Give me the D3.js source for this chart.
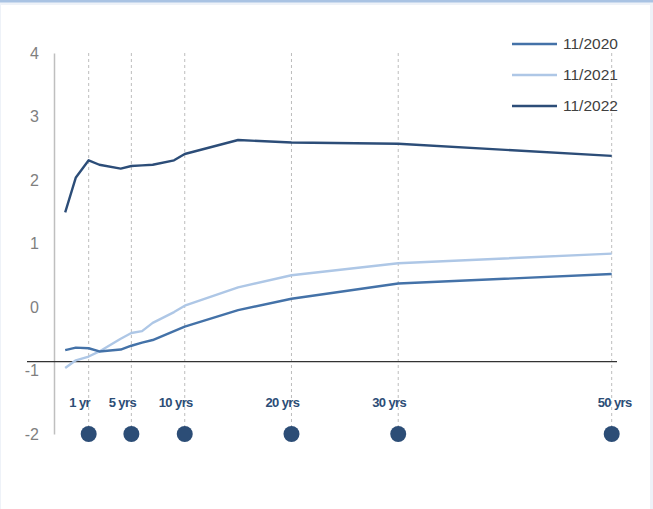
<!DOCTYPE html>
<html>
<head>
<meta charset="utf-8">
<script src="https://cdn.jsdelivr.net/npm/d3@7"></script>
<style>
  html, body { margin: 0; padding: 0; background: #eef2f8; }
  #chart { width: 653px; height: 509px; }
  text { font-family: 'Liberation Sans', Arial, sans-serif; }
</style>
</head>
<body>
<div id="chart"></div>
<script>
// Maturity positions on the horizontal axis (years)
const maturities = [-1.2, -0.2, 1, 2, 4, 5, 6, 7, 9, 10, 15, 20, 30, 50]

// Yield curves, one value per maturity
const curve2020 = [-0.68, -0.64, -0.65, -0.70, -0.67, -0.61, -0.56, -0.52, -0.38, -0.31, -0.05, 0.13, 0.37, 0.52]
const curve2021 = [-0.96, -0.84, -0.78, -0.70, -0.50, -0.41, -0.38, -0.25, -0.08, 0.02, 0.31, 0.50, 0.69, 0.84]
const curve2022 = [1.49, 2.04, 2.31, 2.24, 2.18, 2.22, 2.23, 2.24, 2.31, 2.41, 2.63, 2.59, 2.57, 2.38]

const seriesNames = ['11/2020', '11/2021', '11/2022']
const seriesColors = ['#4472a8', '#aec7e6', '#2c4d78']

// Marked maturities along the bottom
const markedYears = [1, 5, 10, 20, 30, 50]
const markedLabels = ['1 yr', '5 yrs', '10 yrs', '20 yrs', '30 yrs', '50 yrs']

const yTicks = [-2, -1, 0, 1, 2, 3, 4]
const baseLineValue = -0.86

const width = 653
const height = 509

const svg = d3.select('#chart').append('svg')
  .attr('width', width)
  .attr('height', height)

// card background with the blue strip on top
svg.append('rect')
  .attr('x', 1).attr('y', 5)
  .attr('width', width - 4).attr('height', height - 5)
  .style('fill', '#fff')
svg.append('rect')
  .attr('x', 0).attr('y', 0)
  .attr('width', width).attr('height', 2.5)
  .style('fill', '#a9c3e3')

const x = d3.scaleLinear().domain([0, 50]).range([78, 611.7])
const y = d3.scaleLinear().domain([-2, 4]).range([434, 53])

// --- DASHED GUIDES & MARKERS ---
svg.selectAll('.guide')
  .data(markedYears).enter()
  .append('line')
  .attr('class', 'guide')
  .attr('x1', d => x(d)).attr('x2', d => x(d))
  .attr('y1', y(4)).attr('y2', y(-2))
  .style('stroke', '#bdbdbd')
  .style('stroke-width', 1)
  .style('stroke-dasharray', '3,3')

svg.selectAll('.marker')
  .data(markedYears).enter()
  .append('circle')
  .attr('class', 'marker')
  .attr('cx', d => x(d))
  .attr('cy', y(-2))
  .attr('r', 8)
  .style('fill', '#2c4d76')

svg.selectAll('.mlabel')
  .data(markedYears).enter()
  .append('text')
  .attr('class', 'mlabel')
  .attr('x', (d, i) => x(d) + (i === markedYears.length - 1 ? 3 : -9))
  .attr('y', 407)
  .attr('text-anchor', 'middle')
  .style('font-size', '13px')
  .style('font-weight', 'bold')
  .style('letter-spacing', '-0.6px')
  .style('fill', '#2c4d76')
  .text((d, i) => markedLabels[i])

// --- Y AXIS ---
const yAxis = svg.append('g')
  .attr('transform', 'translate(54,0)')
  .call(d3.axisLeft(y).tickValues(yTicks).tickSize(0).tickPadding(15).tickFormat(d => String(d)))
yAxis.select('.domain').style('stroke', '#bfbfbf').style('stroke-width', 1.5)
yAxis.selectAll('text')
  .style('font-size', '16px')
  .style('font-family', "'Liberation Sans', Arial, sans-serif")
  .style('fill', '#7f7f7f')

// horizontal base line
svg.append('line')
  .attr('x1', 27).attr('x2', 617)
  .attr('y1', y(baseLineValue)).attr('y2', y(baseLineValue))
  .style('stroke', '#333')
  .style('stroke-width', 1.2)

// --- CURVES ---
const line = d3.line()
  .x(d => x(d[0]))
  .y(d => y(d[1]))

const curves = [curve2020, curve2021, curve2022]
const drawOrder = [1, 0, 2]
drawOrder.forEach(i => {
  svg.append('path')
    .datum(maturities.map((m, j) => [m, curves[i][j]]))
    .attr('d', line)
    .style('fill', 'none')
    .style('stroke', seriesColors[i])
    .style('stroke-width', 2.4)
    .style('stroke-linejoin', 'round')
})

// --- LEGEND ---
const legend = svg.selectAll('.legend')
  .data(seriesNames).enter()
  .append('g')
  .attr('class', 'legend')
  .attr('transform', (d, i) => `translate(512,${44 + i * 31})`)

legend.append('line')
  .attr('x1', 0).attr('x2', 45)
  .style('stroke', (d, i) => seriesColors[i])
  .style('stroke-width', 2.4)

legend.append('text')
  .attr('x', 51)
  .attr('dy', '0.35em')
  .style('font-size', '15.5px')
  .style('fill', '#404040')
  .text(d => d)
</script>
</body>
</html>
